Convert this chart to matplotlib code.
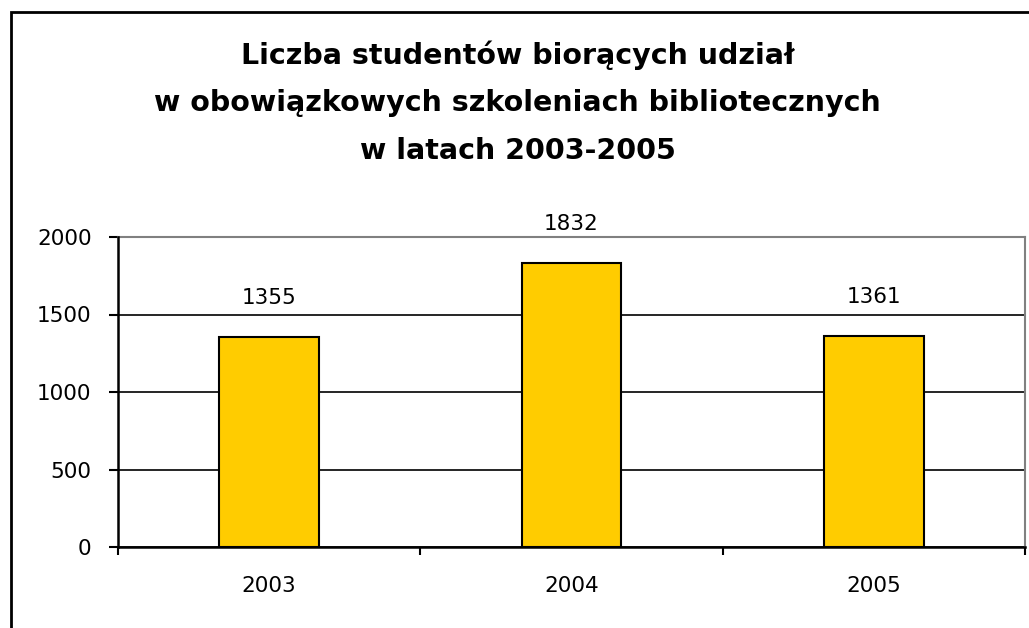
import matplotlib.pyplot as plt
from matplotlib.patches import Rectangle

years = ["2003", "2004", "2005"]
students = [1355, 1832, 1361]
y_ticks = [0, 500, 1000, 1500, 2000]

title_lines = ["Liczba studentów biorących udział",
               "w obowiązkowych szkoleniach bibliotecznych",
               "w latach 2003-2005"]

plt.rcParams['font.family'] = ['DejaVu Sans']

fig = plt.figure(figsize=(10.29, 6.28), dpi=100)

# outer chart frame (runs off the right and bottom edge like the original)
fig.patches.append(Rectangle((11 / 1029, -0.05), 1.1, 1 - 12 / 628 + 0.05,
                             transform=fig.transFigure, fill=False,
                             edgecolor='black', linewidth=2))

ax = fig.add_axes([118 / 1029, 1 - 547 / 628, (1025 - 118) / 1029, (547 - 237) / 628])

pos = [i + 0.5 for i in range(len(years))]
ax.bar(pos, students, width=0.33, color='#FFCC00', edgecolor='black', linewidth=1.5, zorder=3)

for x, v in zip(pos, students):
    ax.annotate(str(v), (x, v), xytext=(0, 21), textcoords='offset points',
                ha='center', va='bottom', fontsize=15.5)

ax.set_xlim(0, 3)
ax.set_ylim(0, 2000)
ax.set_yticks(y_ticks)
ax.set_yticklabels([str(t) for t in y_ticks], fontsize=15.5)
ax.set_xticks([0, 1, 2, 3])
ax.set_xticklabels([])
ax.set_xticks(pos, minor=True)
ax.set_xticklabels(years, minor=True, fontsize=15.5)
ax.tick_params(axis='x', which='minor', length=0, pad=21)
ax.tick_params(axis='x', which='major', length=6, width=1.5, direction='out')
ax.tick_params(axis='y', length=6.5, width=1.5, direction='out', pad=12.5)

ax.grid(axis='y', color='black', linewidth=1.2, zorder=1)
ax.set_axisbelow(True)
for s in ['left', 'bottom']:
    ax.spines[s].set_linewidth(1.8)
    ax.spines[s].set_zorder(4)
for s in ['top', 'right']:
    ax.spines[s].set_color('#808080')
    ax.spines[s].set_linewidth(1.5)

for i, line in enumerate(title_lines):
    fig.text(0.503, 1 - (55 + 48 * i) / 628, line, ha='center', va='center',
             fontsize=20.5, fontweight='bold')

fig.savefig('out.png', dpi=100)
